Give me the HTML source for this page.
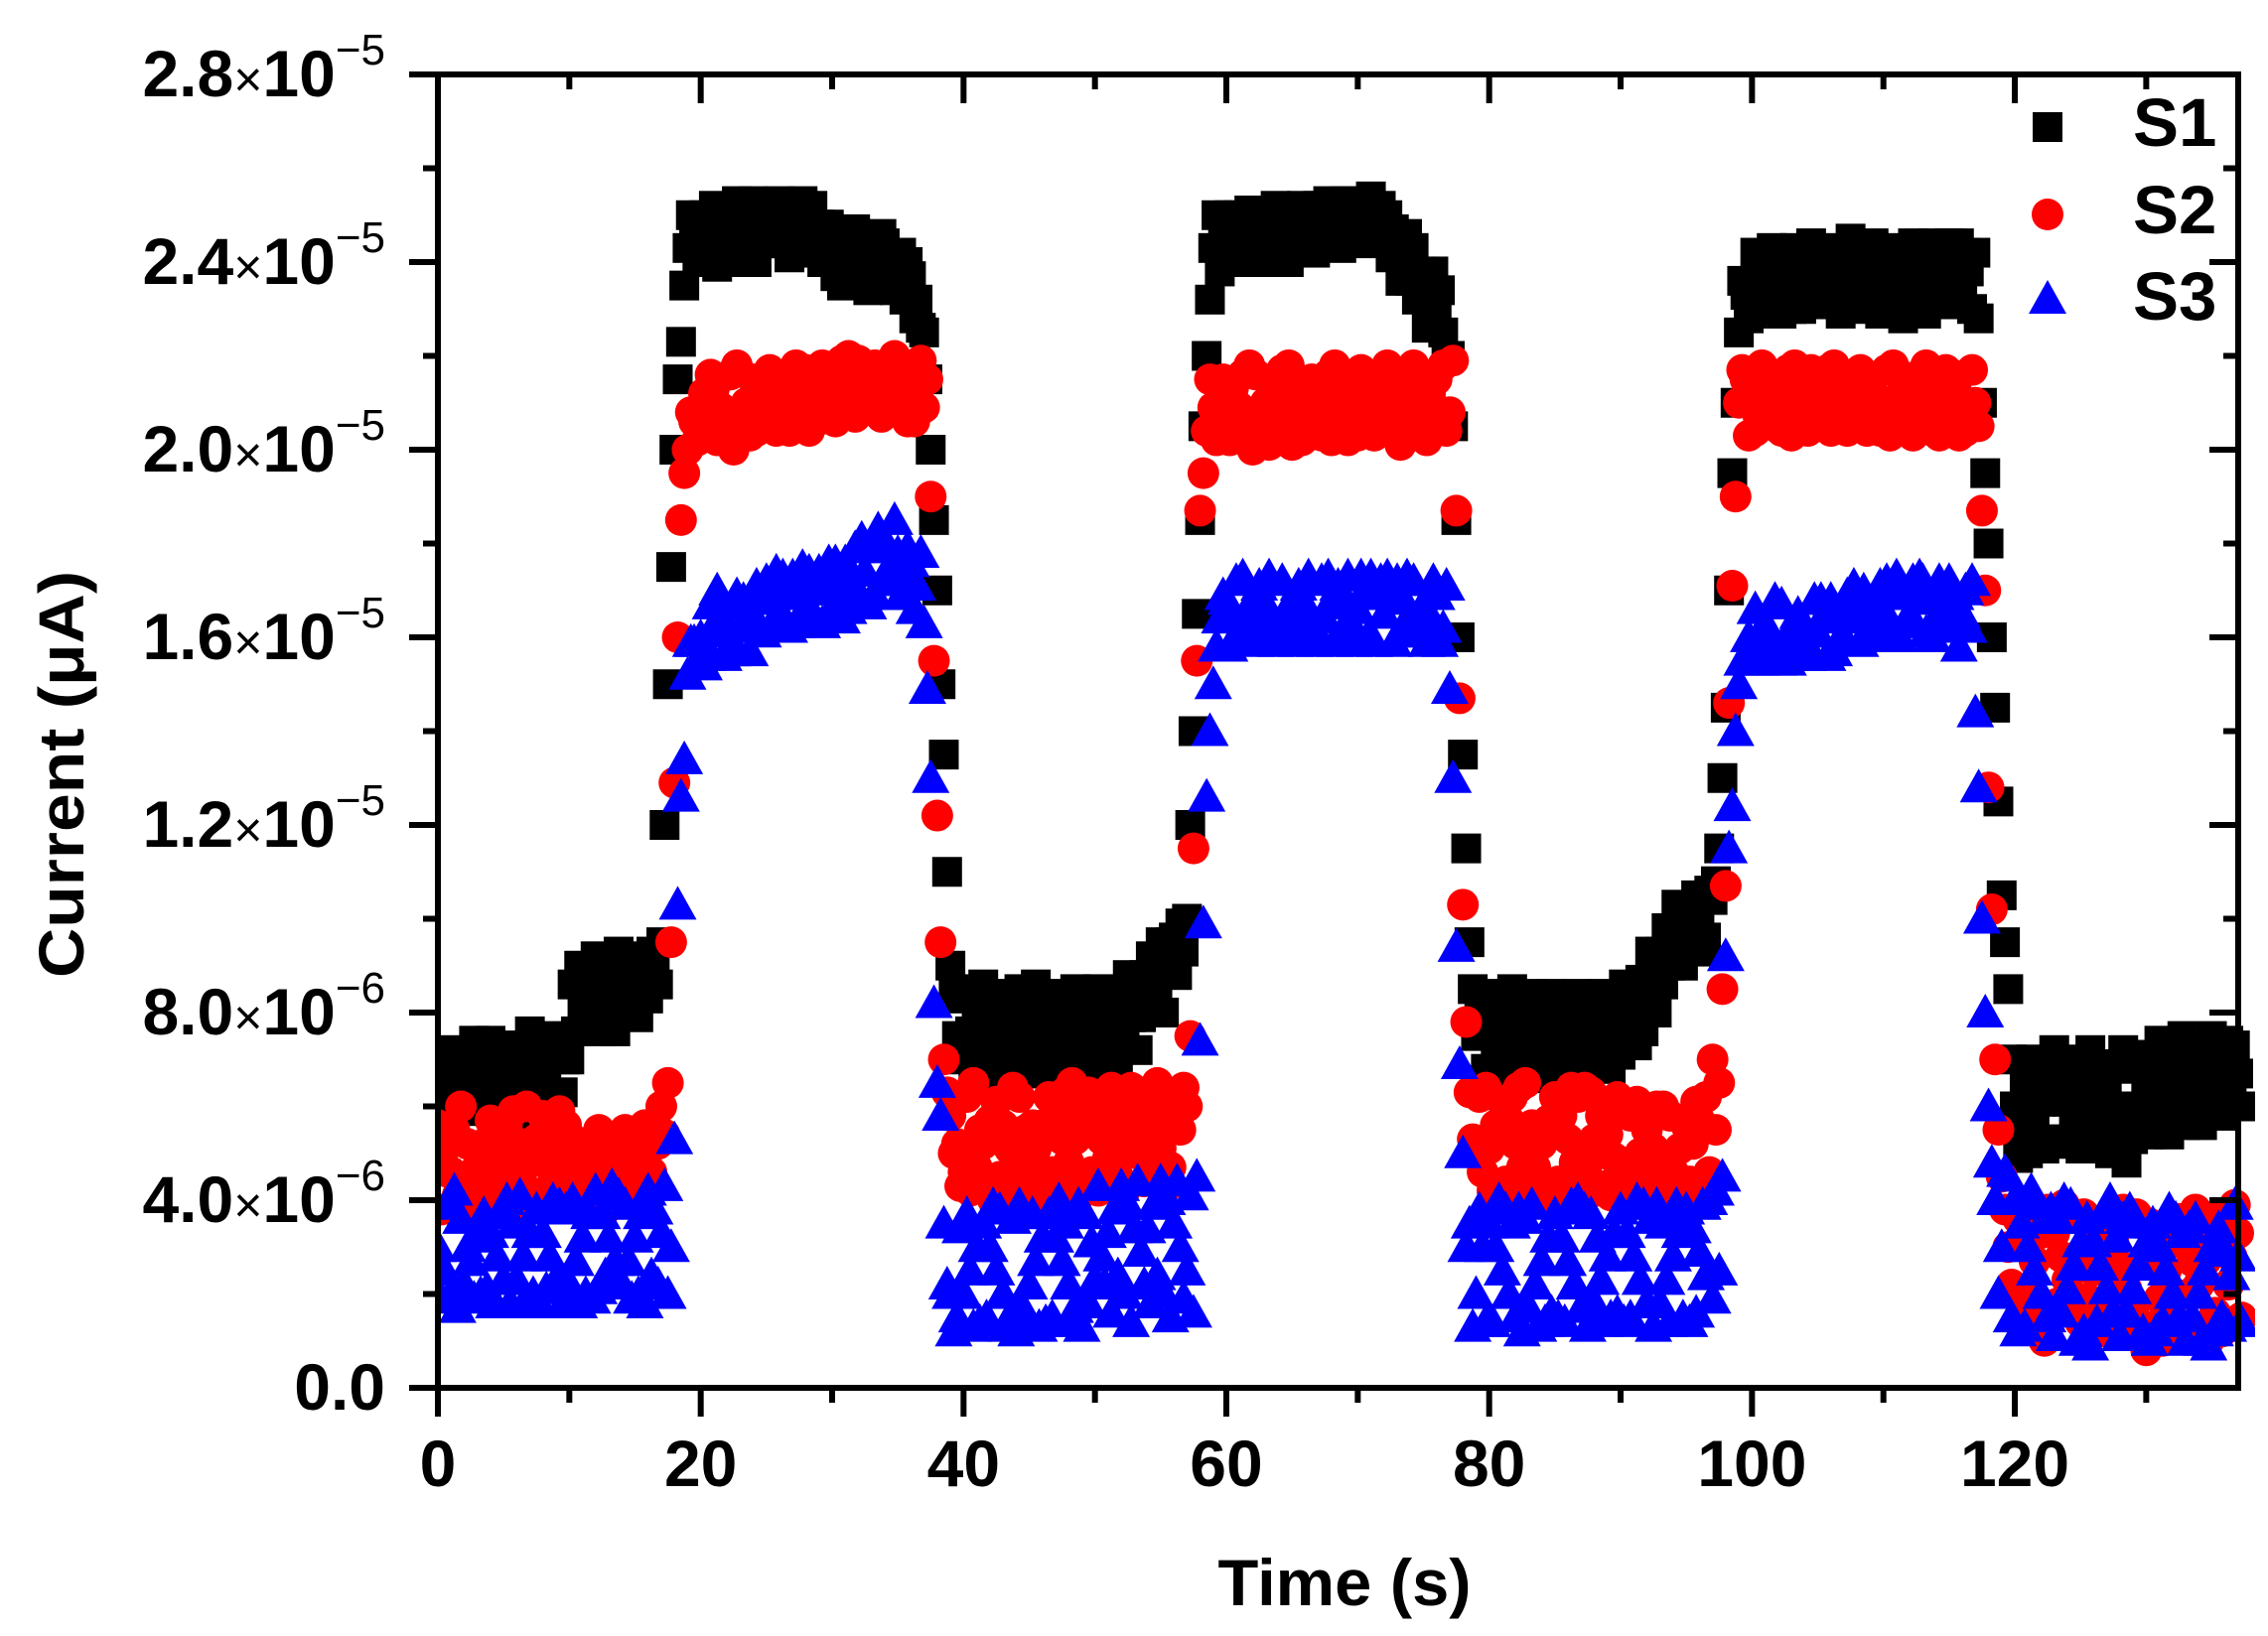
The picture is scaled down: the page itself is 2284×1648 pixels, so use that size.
<!DOCTYPE html>
<html><head><meta charset="utf-8"><style>
html,body{margin:0;padding:0;background:#fff;}
svg{display:block;font-family:"Liberation Sans",Arial,sans-serif;}
</style></head><body>
<svg id="chart" width="2284" height="1648" viewBox="0 0 2284 1648" xmlns="http://www.w3.org/2000/svg">
<defs><clipPath id="plotclip"><rect x="441" y="40" width="1830" height="1370"/></clipPath></defs>
<rect width="2284" height="1648" fill="#fff"/>
<g id="marks" clip-path="url(#plotclip)"></g>
<g id="axes"></g>
<g id="legend">
  <rect x="2047" y="113" width="30" height="30" fill="#000"/>
  <text x="2148" y="147" font-size="69" font-weight="bold">S1</text>
  <circle cx="2062" cy="216" r="16" fill="#f00"/>
  <text x="2148" y="235" font-size="69" font-weight="bold">S2</text>
  <polygon points="2062,282 2081,316 2043,316" fill="#00f"/>
  <text x="2148" y="322" font-size="69" font-weight="bold">S3</text>
</g>
<text x="1354" y="1617" font-size="66" font-weight="bold" text-anchor="middle" textLength="255" lengthAdjust="spacingAndGlyphs">Time (s)</text>
<text transform="translate(84,780) rotate(-90)" font-size="64" font-weight="bold" text-anchor="middle" textLength="410" lengthAdjust="spacingAndGlyphs">Current (μA)</text>
</svg>
<script>
// ---- data (current in units of 1e-6). Sweep A at t=i*0.5 s, sweep B at t=0.25+i*0.5 s ----
const sampleInterval = 0.5;
const sweepBOffset = 0.25;
const s1Values = [
6.2,6.7,7.2,6.8,6.3,5.9,6.4,6.9,7.4,7.0,6.5,6.0,6.5,7.1,7.6,7.2,6.7,6.2,5.7,6.3,
7.0,7.6,8.2,8.8,9.2,8.7,8.1,7.6,8.1,8.7,9.2,8.8,8.3,8.9,9.5,15.0,20.0,22.3,24.3,24.8,
24.3,24.8,25.2,24.8,24.3,24.0,24.5,25.0,25.3,24.9,24.4,24.8,25.3,25.0,24.5,24.2,24.7,25.2,24.8,24.3,
24.6,24.1,23.6,24.0,24.5,24.0,23.5,23.9,24.4,24.0,23.6,23.2,23.7,23.2,22.5,20.0,17.0,13.5,9.0,7.5,
7.0,7.6,8.2,8.6,8.1,7.5,6.9,6.5,7.1,7.7,8.3,8.6,8.0,7.4,6.8,7.3,7.9,8.5,8.1,7.5,
7.0,6.6,7.2,7.8,8.4,8.8,8.4,7.9,8.5,9.1,9.5,9.0,9.6,9.9,10.0,14.0,18.5,22.0,24.3,23.8,
24.0,24.5,25.0,24.6,24.1,24.5,25.0,24.6,24.2,24.7,25.1,24.8,24.4,24.9,25.2,24.8,24.4,24.9,25.3,24.9,
24.5,25.0,25.4,25.0,24.6,24.1,24.5,24.0,23.6,23.2,23.8,23.3,22.9,22.5,22.0,18.5,13.5,9.5,7.5,8.2,
7.6,7.0,6.5,7.0,7.6,8.2,7.7,7.1,6.6,7.1,7.7,8.3,7.9,7.3,6.8,7.3,7.9,8.4,8.0,7.5,
7.1,7.6,8.2,8.7,8.3,8.8,9.3,9.8,9.3,9.8,10.2,9.7,10.1,9.6,10.4,11.5,14.5,19.5,22.5,23.3,
22.9,23.4,23.9,24.3,23.9,23.4,23.0,23.5,24.0,24.4,24.0,23.5,23.1,23.6,24.1,24.5,24.1,23.6,23.2,23.7,
24.2,23.7,23.2,22.8,23.3,23.8,24.3,23.9,23.4,23.9,24.4,23.9,23.4,23.8,24.2,21.0,18.0,14.5,10.5,8.5,
6.0,5.5,5.0,5.5,6.1,6.7,7.2,6.7,6.1,5.6,5.1,5.6,6.2,6.8,6.3,5.8,5.3,4.8,5.3,5.9,
6.4,6.9,7.4,7.0,6.5,6.0,5.6,6.1,6.6,7.1,7.5,7.1,6.6,6.2,6.7];
const s1ValuesB = [
7.1,6.6,6.1,6.5,7.0,7.4,6.9,6.4,5.9,6.3,6.8,7.3,6.8,6.2,5.8,6.1,6.6,7.1,7.5,7.0,
8.6,9.0,8.4,7.8,7.6,8.0,8.9,9.3,8.7,8.0,7.9,8.5,9.3,8.6,12.0,17.5,21.5,23.5,25.0,24.0,
25.0,24.3,23.9,24.5,25.1,25.3,24.7,24.2,24.0,24.4,25.0,25.2,24.4,24.1,24.9,25.3,24.9,24.2,24.0,24.8,
23.7,23.5,24.3,24.7,23.6,23.4,24.4,24.6,23.5,23.4,24.2,24.0,22.8,22.6,21.5,18.5,15.0,11.0,8.5,8.3,
8.4,6.8,6.6,7.3,7.9,8.4,8.0,7.2,8.5,6.8,6.7,7.4,8.4,8.1,7.0,6.6,7.2,7.0,6.8,8.4,
8.5,8.0,7.1,6.8,7.6,7.9,7.2,8.8,9.2,8.2,8.0,9.5,8.8,9.3,12.0,16.5,20.5,23.2,25.0,24.6,
25.0,24.2,24.0,25.1,24.8,24.0,24.3,25.2,24.9,24.0,24.4,25.2,24.9,24.2,24.5,25.3,24.9,24.3,24.5,25.3,
25.2,24.4,24.6,25.2,25.0,24.7,23.6,24.6,24.3,23.5,22.6,23.8,23.4,22.0,20.5,16.0,11.5,8.5,8.3,6.8,
8.4,8.3,7.9,8.5,6.8,6.9,8.4,8.3,7.9,8.4,6.9,7.2,6.7,8.4,8.3,8.0,6.8,7.0,6.8,8.2,
8.6,8.3,7.3,7.6,9.3,8.0,8.6,9.0,10.3,9.0,9.4,10.5,9.3,10.6,10.8,13.0,17.0,21.0,23.6,22.8,
24.2,23.0,23.2,23.4,22.9,24.2,24.3,23.0,23.2,23.5,23.2,24.3,24.2,22.9,23.3,23.6,23.0,24.2,24.4,22.9,
23.0,24.3,24.2,23.7,24.4,23.0,22.9,24.4,24.2,23.1,23.3,24.4,24.2,23.0,22.8,19.5,16.0,12.5,9.5,7.0,
4.9,6.6,7.0,6.5,5.1,5.3,6.1,5.2,7.0,6.8,6.4,7.2,5.3,5.4,5.0,6.9,7.2,6.0,6.8,7.1,
5.4,5.8,6.0,5.4,7.3,7.5,6.9,7.3,5.6,6.0,6.2,5.8,7.4,7.3,6.0];
const s2Values = [
5.6,5.1,4.6,4.1,3.7,4.2,4.7,5.2,5.7,5.3,4.8,4.3,3.8,4.3,4.8,5.3,5.8,5.3,4.8,4.3,
3.9,4.4,4.9,4.4,4.0,4.5,5.0,4.6,4.2,4.7,5.2,4.8,5.3,5.6,6.0,6.5,12.9,18.5,20.0,20.6,
20.3,20.8,21.3,20.9,20.4,20.0,20.5,21.0,21.5,21.1,20.6,21.0,21.5,21.2,20.7,21.2,21.7,21.3,20.8,21.2,
21.7,21.3,20.9,21.4,21.9,21.5,21.0,21.4,21.8,21.3,20.9,21.3,21.7,21.2,20.9,19.0,12.2,7.0,5.8,5.2,
4.6,4.2,4.7,5.2,5.7,6.1,5.6,5.1,4.6,4.1,4.6,5.1,5.6,6.2,5.8,5.3,4.8,5.3,5.8,6.3,
5.8,5.3,4.9,5.4,5.9,5.5,5.0,5.5,6.0,5.6,5.1,5.6,6.0,5.5,6.0,11.5,18.7,20.4,20.9,20.3,
20.8,21.3,20.9,20.4,20.0,20.5,21.0,21.4,21.0,20.5,20.1,20.6,21.1,21.5,21.1,20.6,20.2,20.7,21.2,20.8,
20.3,20.8,21.3,20.9,20.4,20.9,21.4,21.0,20.6,21.1,21.6,21.2,21.5,21.8,20.8,18.7,10.3,6.3,5.2,4.6,
5.1,5.6,6.1,5.7,5.2,4.7,4.2,4.7,5.2,5.7,6.2,5.8,5.3,4.8,4.3,4.8,5.3,5.8,5.4,4.9,
4.4,4.0,4.5,5.0,5.5,5.1,4.6,4.2,4.6,5.1,5.6,5.2,5.7,6.2,7.0,6.5,10.7,17.1,21.0,21.5,
21.1,20.7,21.2,21.6,21.2,20.7,20.3,20.8,21.3,21.7,21.3,20.8,20.4,20.9,21.4,21.0,20.6,21.1,21.5,21.1,
20.7,20.3,20.8,21.3,20.9,20.4,20.8,21.3,20.9,20.5,21.0,21.4,21.0,20.6,21.0,18.7,12.8,7.0,4.5,3.0,
2.0,1.6,2.1,2.7,3.3,3.8,3.3,2.8,2.3,1.8,1.4,1.9,2.5,3.1,3.6,3.1,2.6,2.1,1.6,1.2,
0.8,1.3,1.9,2.5,3.1,3.6,3.2,2.7,2.2,2.7,3.2,3.7,3.3,2.8,3.3];
const s2ValuesB = [
3.8,4.6,5.5,6.0,5.2,4.4,3.8,4.0,4.6,3.9,5.6,5.9,5.2,6.0,3.9,4.1,4.2,4.6,5.9,5.6,
5.3,4.1,3.9,5.1,5.5,3.8,4.2,5.2,5.5,4.0,4.3,5.6,4.6,5.2,5.4,9.5,16.0,19.5,20.8,20.2,
21.2,21.6,20.2,20.4,21.6,21.8,20.8,20.3,20.4,20.5,21.7,20.4,20.5,20.4,21.8,20.6,20.4,20.6,21.8,21.6,
20.6,21.9,22.0,20.7,20.9,21.0,21.8,20.7,20.8,22.0,21.8,20.6,20.6,21.9,21.5,15.5,9.5,6.3,5.0,4.3,
6.2,6.5,5.5,4.3,4.0,4.5,4.0,6.4,6.2,5.5,5.6,4.0,4.4,4.6,4.1,6.3,6.5,4.3,4.2,4.6,
4.2,6.2,6.4,4.5,4.2,6.4,6.1,4.4,4.8,6.5,4.2,4.7,5.6,6.4,7.5,15.5,19.5,21.5,20.2,21.5,
20.2,20.3,21.6,21.8,21.6,20.3,20.1,20.4,21.7,21.8,21.5,20.2,20.3,20.4,20.3,21.6,21.8,21.5,20.2,20.4,
21.7,21.2,20.3,20.4,21.8,21.5,20.1,20.6,21.8,20.4,20.2,20.8,20.6,20.4,21.9,14.7,7.8,5.3,6.2,6.4,
4.2,4.0,4.4,6.2,6.4,6.5,5.6,4.0,4.3,4.0,4.4,4.2,6.4,6.2,6.4,6.3,4.2,4.3,4.1,6.2,
6.0,5.8,6.1,4.2,4.0,6.0,6.0,5.8,4.0,4.2,4.4,6.1,4.4,4.6,5.5,8.5,14.6,19.0,21.7,20.3,
20.4,21.8,21.6,20.5,20.4,21.7,21.8,21.6,20.4,20.5,20.6,21.7,21.8,21.6,20.4,20.6,21.7,20.4,20.5,20.4,
21.7,21.8,21.6,20.4,20.3,21.6,21.8,20.4,20.3,21.7,21.6,20.3,20.4,21.7,20.5,17.0,10.2,5.5,3.8,2.2,
3.6,3.8,3.5,1.5,1.0,1.5,1.8,3.9,3.7,2.8,3.7,3.4,1.4,1.2,1.6,2.3,3.8,3.6,3.7,3.5,
3.5,2.9,1.0,1.2,1.4,1.3,2.0,3.8,1.2,1.0,1.6,1.2,2.2,3.9,1.5];
const s3Values = [
3.0,2.5,2.0,1.7,2.2,2.7,3.2,3.7,3.3,2.8,2.3,1.8,2.3,2.8,3.3,3.8,3.3,2.8,2.3,1.8,
2.2,2.7,3.2,3.7,4.2,3.7,3.2,2.7,2.2,2.7,3.2,3.7,4.2,3.8,3.3,2.0,5.3,12.6,15.2,15.9,
16.0,15.6,16.1,16.5,16.1,15.7,16.2,16.7,16.3,16.8,17.2,16.8,16.4,16.9,17.3,16.9,16.5,17.0,17.4,17.0,
16.6,17.1,17.6,17.2,16.8,17.4,17.9,18.3,17.9,17.5,17.8,17.3,17.6,17.1,16.3,13.0,6.5,3.5,2.0,1.5,
2.0,2.5,3.0,3.5,3.0,2.5,2.0,1.5,1.2,1.7,2.2,2.7,3.2,3.7,3.2,2.7,2.2,1.7,1.3,1.8,
2.3,2.8,3.3,3.8,4.3,3.9,3.4,2.9,3.4,3.9,4.4,4.0,3.5,3.0,2.5,1.6,7.4,12.6,15.0,16.4,
16.8,16.4,16.0,16.4,16.8,17.1,16.7,16.3,16.0,16.4,16.8,17.1,16.7,16.3,16.0,16.4,16.8,17.1,16.7,16.3,
16.6,17.0,17.3,16.9,16.5,16.9,17.2,16.8,16.5,16.2,16.7,16.4,16.9,16.2,14.9,9.4,5.0,3.5,2.0,3.0,
3.5,3.0,2.5,2.0,1.5,1.2,1.7,2.2,2.7,3.2,3.7,3.2,2.7,2.2,1.7,1.3,1.8,2.3,2.8,3.3,
3.8,3.3,2.8,2.3,1.8,1.3,1.8,2.3,2.8,3.3,3.8,3.4,2.9,2.4,1.9,2.5,9.2,12.4,15.0,15.6,
15.5,15.9,16.3,15.9,15.5,15.8,16.2,16.5,16.1,15.7,16.1,16.5,16.8,16.4,16.0,16.4,16.8,17.0,16.6,16.2,
16.6,17.0,17.3,16.9,16.5,16.9,17.2,16.8,16.4,16.8,17.2,16.9,16.5,16.2,14.4,10.0,6.0,4.0,3.0,4.5,
4.0,3.5,3.0,2.5,2.0,1.5,1.1,1.6,2.1,2.6,3.1,3.6,3.1,2.6,2.1,1.6,1.1,1.6,2.1,2.6,
3.1,3.5,3.0,2.5,2.0,1.5,1.0,1.5,2.0,2.5,3.0,3.4,2.9,2.4,2.8];
const s3ValuesB = [
1.9,3.9,4.2,3.6,3.0,1.9,2.0,2.1,1.8,3.7,4.0,3.5,4.1,1.9,2.0,1.8,2.1,4.0,3.9,3.8,
4.0,1.8,2.0,1.9,2.1,2.4,4.3,4.1,3.9,1.9,2.0,1.8,2.4,2.2,4.3,3.0,10.3,13.4,15.9,15.5,
15.4,16.7,17.0,15.6,15.7,16.9,16.8,15.7,17.1,16.1,16.2,17.4,17.3,16.2,16.3,17.5,17.4,16.4,16.3,17.6,
17.6,16.4,16.6,17.9,18.1,16.7,16.9,17.2,17.2,18.5,16.9,17.9,16.6,17.8,14.9,8.2,5.8,2.2,1.2,3.4,
3.7,1.3,1.4,1.5,3.9,3.8,1.3,3.6,3.9,1.4,3.7,1.3,1.4,1.5,4.0,3.5,1.4,3.9,3.7,3.1,
4.3,2.2,1.6,2.4,2.0,1.4,4.4,2.2,1.8,2.4,2.0,1.5,4.4,1.9,4.1,4.5,9.9,14.0,15.8,16.9,
15.8,17.2,17.3,16.0,15.9,16.2,17.3,15.9,17.2,16.0,15.9,16.2,17.3,15.9,17.2,17.3,15.9,16.1,17.3,15.9,
17.3,16.0,15.9,17.2,17.3,15.9,16.1,17.3,17.2,16.1,15.9,17.2,15.9,17.1,13.0,6.9,3.0,1.3,3.8,1.4,
1.4,4.0,3.8,3.5,3.8,3.6,3.9,1.3,1.4,1.6,1.5,1.4,3.9,4.0,3.8,3.7,3.2,1.4,1.5,1.6,
1.4,1.5,4.0,3.9,3.6,3.9,3.5,1.4,3.9,1.5,1.4,1.6,3.9,4.0,4.2,4.5,11.5,14.0,15.5,16.0,
16.6,15.5,15.6,16.8,16.7,15.5,15.6,16.0,15.6,16.8,16.8,15.6,15.7,16.0,16.9,17.1,15.9,16.1,16.0,17.1,
17.2,16.2,16.0,16.3,17.2,17.3,16.1,16.0,17.2,16.3,16.2,15.8,17.0,17.2,12.8,8.0,4.8,2.0,4.6,1.5,
1.2,1.3,4.2,3.9,3.6,3.8,3.6,4.0,3.9,1.0,1.2,0.9,1.4,3.7,4.0,3.2,3.6,3.8,3.5,1.2,
1.0,1.2,1.4,3.8,3.6,3.3,3.4,3.6,1.0,0.9,1.2,1.5,1.3,3.9,1.4];
const xTickValues = [0,20,40,60,80,100,120];
const xTickLabels = ["0","20","40","60","80","100","120"];
const yTickValues = [0,4,8,12,16,20,24,28];
const yTickMantissa = ["0.0","4.0","8.0","1.2","1.6","2.0","2.4","2.8"];
const yTickExponent = [null,"\u22126","\u22126","\u22125","\u22125","\u22125","\u22125","\u22125"];

// ---- layout ----
const X0=441, X1=2254, Y0=1398, Y1=75, XMAX=137, YMAX=28;
function xScale(t){return X0+(X1-X0)*t/XMAX;}
function yScale(v){return Y0-(Y0-Y1)*v/YMAX;}
const NS="http://www.w3.org/2000/svg";
function mk(tag,attrs,parent){const e=document.createElementNS(NS,tag);for(const k in attrs)e.setAttribute(k,attrs[k]);parent.appendChild(e);return e;}
function pts(a,b){const out=[];a.forEach((v,i)=>out.push([i*sampleInterval,v]));b.forEach((v,i)=>out.push([sweepBOffset+i*sampleInterval,v]));out.sort((p,q)=>p[0]-q[0]);return out;}

const marks=document.getElementById('marks');
const g1=mk('g',{fill:'#000'},marks);


pts(s1Values,s1ValuesB).forEach(([t,v])=>{const x=xScale(t),y=yScale(v);
  const r=mk('rect',{x:x-15,y:y-15,width:30,height:30},g1);
  
  });
const g2=mk('g',{fill:'#f00'},marks);


pts(s2Values,s2ValuesB).forEach(([t,v])=>{const x=xScale(t),y=yScale(v);
  const c=mk('circle',{cx:x,cy:y,r:16},g2);
  
  });
const g3=mk('g',{fill:'#00f'},marks);


pts(s3Values,s3ValuesB).forEach(([t,v])=>{const x=xScale(t),y=yScale(v);
  const p=mk('polygon',{points:`${x},${y-19} ${x+19},${y+15} ${x-19},${y+15}`},g3);
  
  });

// ---- axes ----
const axes=document.getElementById('axes');
const frame=mk('rect',{x:X0,y:Y1,width:X1-X0,height:Y0-Y1,fill:'none',stroke:'#000','stroke-width':6},axes);


for(let t=0;t<=XMAX;t+=10){const x=xScale(t);const major=(t%20===0);const L=major?29:15;
  const a=mk('line',{x1:x,y1:Y0,x2:x,y2:Y0+L,stroke:'#000','stroke-width':6},axes);
  
  
  const b=mk('line',{x1:x,y1:Y1,x2:x,y2:Y1+L,stroke:'#000','stroke-width':6},axes);
  
  }
for(let v=0;v<=YMAX;v+=2){const y=yScale(v);const major=(v%4===0);const L=major?29:15;
  const a=mk('line',{x1:X0-L,y1:y,x2:X0,y2:y,stroke:'#000','stroke-width':6},axes);
  
  
  const b=mk('line',{x1:X1-L,y1:y,x2:X1,y2:y,stroke:'#000','stroke-width':6},axes);
  
  }
xTickValues.forEach((t,i)=>{
  const tx=mk('text',{x:xScale(t),y:1497,'font-size':66,'font-weight':'bold','text-anchor':'middle'},axes);
  tx.textContent=xTickLabels[i];
  
  });
yTickValues.forEach((v,i)=>{
  const y=yScale(v)+22;
  const tx=mk('text',{x:388,y:y,'font-size':66,'font-weight':'bold','text-anchor':'end'},axes);
  
  
  const m=mk('tspan',{},tx);m.textContent=yTickMantissa[i];
  if(yTickExponent[i]){
    const x1=mk('tspan',{'font-weight':'normal','font-size':50},tx);x1.textContent='\u00d7';
    const t10=mk('tspan',{},tx);t10.textContent='10';
    const e=mk('tspan',{'font-weight':'normal','font-size':44,dy:-32},tx);e.textContent=yTickExponent[i];
  }});
</script>
</body></html>
